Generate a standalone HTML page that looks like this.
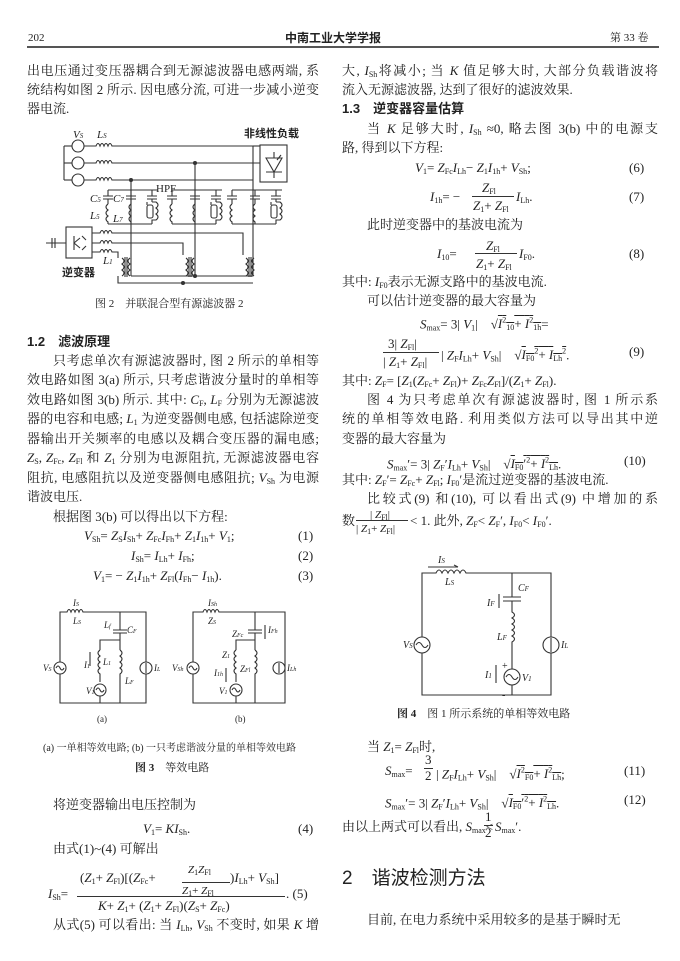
<!DOCTYPE html>
<html><head><meta charset="utf-8">
<style>
body{margin:0;background:#fff;}
#p{position:relative;width:680px;height:961px;overflow:hidden;background:#fff;color:#222;font-family:"Liberation Serif","Noto Serif CJK SC","Noto Sans CJK SC",serif;font-size:13px;}
.t{position:absolute;white-space:nowrap;line-height:16px;}
.j{text-align:justify;text-align-last:justify;white-space:normal;}
.h{font-family:"Liberation Sans","Noto Sans CJK SC",sans-serif;font-weight:bold;}
i{font-style:italic}
sub{font-size:8px;vertical-align:-2px}
svg{position:absolute;left:0;top:0}
svg text{font-family:"Liberation Serif","Noto Sans CJK SC",serif;fill:#222}
</style></head><body><div id="p">
<div class="t" style="left:28px;top:30px;font-size:11px">202</div>
<div class="t h" style="left:285px;top:30px;font-size:12px">中南工业大学学报</div>
<div class="t" style="left:610px;top:30px;font-size:11px">第 33 卷</div>
<div style="position:absolute;left:27px;top:46px;width:632px;height:2px;background:#555"></div>

<!-- left column -->
<div class="t j" style="left:27px;top:63px;width:292px">出电压通过变压器耦合到无源滤波器电感两端, 系</div>
<div class="t j" style="left:27px;top:82px;width:292px">统结构如图 2 所示. 因电感分流, 可进一步减小逆变</div>
<div class="t" style="left:27px;top:101px">器电流.</div>

<svg width="680" height="961" fill="none" stroke="#333" stroke-width="1.1">
<!-- Fig 2 -->
<g>
<line x1="64" y1="146" x2="64" y2="180"/>
<line x1="64" y1="146" x2="72" y2="146"/><line x1="64" y1="163" x2="72" y2="163"/><line x1="64" y1="180" x2="72" y2="180"/>
<circle cx="78" cy="146" r="6"/><circle cx="78" cy="163" r="6"/><circle cx="78" cy="180" r="6"/>
<path d="M84 146H96 q2-5 4 0 q2-5 4 0 q2-5 4 0 q2-5 4 0 H260"/>
<path d="M84 163H96 q2-5 4 0 q2-5 4 0 q2-5 4 0 q2-5 4 0 H260"/>
<path d="M84 180H96 q2-5 4 0 q2-5 4 0 q2-5 4 0 q2-5 4 0 H253"/>
<rect x="260" y="145" width="27" height="37"/>
<path d="M266 158 l8 14 l8-14 z M266 172h16 M274 158v-6 M274 172v6 M277 160 l4 -5"/>
<line x1="131" y1="180" x2="131" y2="276"/>
<line x1="195" y1="163" x2="195" y2="276"/>
<line x1="253" y1="146" x2="253" y2="276"/>
<line x1="253" y1="146" x2="260" y2="146"/>
<!-- filter groups -->
<g id="fg">
<path d="M108 190H158 M108 190v6 M131 190v6 M152 190v6 M103 196h10 M103 199h10 M126 196h10 M126 199h10 M147 196h10 M147 199h10 M108 199v5 M131 199v5 M152 199v3"/>
<path d="M108 204 q-4 3 0 6 q-4 3 0 6 q-4 3 0 6 v2 M131 204 q-4 3 0 6 q-4 3 0 6 q-4 3 0 6 v2"/>
<rect x="147" y="205" width="6" height="13" rx="2"/>
<path d="M152 202 h4 q4 3 0 6 q4 3 0 6 q4 3 0 6 h-4 v4 M147 202 h-0 v3"/>
<path d="M108 224H152"/>
</g>
<use href="#fg" x="64"/>
<use href="#fg" x="124"/>
<!-- inverter -->
<rect x="66" y="227" width="26" height="31"/>
<path d="M74 236 v14 M74 243 l6-5 M74 243 l6 5 M82 236 l4 4 M82 250 l4-4"/>
<path d="M52 243 H66 M52 238 v10 M55 238 v10 M46 243h6"/>
<path d="M92 233 H100 q2-5 4 0 q2-5 4 0 q2-5 4 0 H243 V255"/>
<path d="M92 243 H100 q2-5 4 0 q2-5 4 0 q2-5 4 0 H183 V255"/>
<path d="M92 252 H100 q2-5 4 0 q2-5 4 0 q2-5 4 0 H118 V258"/>
<g id="tr">
<path d="M122 258 q4 3 0 6 q4 3 0 6 q4 3 0 6 M130 258 q-4 3 0 6 q-4 3 0 6 q-4 3 0 6 M125 257v20 M127 257v20"/>
</g>
<use href="#tr" x="64"/><use href="#tr" x="124"/>
<path d="M118 276 v7 H253 M131 276 H195 M195 276 H253"/>
<circle cx="131" cy="180" r="1.5" fill="#333"/><circle cx="195" cy="163" r="1.5" fill="#333"/><circle cx="195" cy="276" r="1.5" fill="#333"/><circle cx="183" cy="283" r="1.5" fill="#333"/>
</g>
<g stroke="none" font-size="11">
<text x="73" y="138" font-style="italic">V<tspan font-size="7">S</tspan></text>
<text x="97" y="138" font-style="italic">L<tspan font-size="7">S</tspan></text>
<text x="244" y="137" font-weight="bold" font-family="Liberation Sans,Noto Sans CJK SC,sans-serif" font-size="11">非线性负载</text>
<text x="156" y="192" font-size="11">HPF</text>
<text x="90" y="202" font-style="italic">C<tspan font-size="7">5</tspan></text>
<text x="113" y="202" font-style="italic">C<tspan font-size="7">7</tspan></text>
<text x="90" y="219" font-style="italic">L<tspan font-size="7">5</tspan></text>
<text x="113" y="222" font-style="italic">L<tspan font-size="7">7</tspan></text>
<text x="103" y="264" font-style="italic">L<tspan font-size="7">1</tspan></text>
<text x="62" y="276" font-weight="bold" font-family="Liberation Sans,Noto Sans CJK SC,sans-serif" font-size="11">逆变器</text>
</g>

<!-- Fig 3a -->
<g>
<path d="M60 612 H67 q2-5 4 0 q2-5 4 0 q2-5 4 0 q2-5 4 0 H146 V703 H60 Z"/>
<circle cx="60" cy="668" r="6" fill="#fff"/><path d="M56 668 q2-4 4 0 q2 4 4 0"/>
<circle cx="146" cy="668" r="6" fill="#fff"/><line x1="146" y1="663" x2="146" y2="673"/>
<path d="M120 612 V630 M113 630h14 M113 633h14 M120 633 V640 H100 V650 M120 640 V650"/>
<path d="M100 650 q-4 3 0 6 q-4 3 0 6 q-4 3 0 6 q-4 3 0 6 v8 M120 650 q4 3 0 6 q4 3 0 6 q4 3 0 6 q4 3 0 6 v29"/>
<circle cx="100" cy="690" r="6" fill="#fff"/><path d="M96 690 q2-4 4 0 q2 4 4 0 M100 696 V703"/>
<path d="M90 652 v14"/>
</g>
<g stroke="none" font-size="9" font-style="italic">
<text x="73" y="606">I<tspan font-size="6">S</tspan></text><text x="73" y="624">L<tspan font-size="6">S</tspan></text>
<text x="104" y="628">L<tspan font-size="6">f</tspan></text><text x="127" y="633">C<tspan font-size="6">F</tspan></text>
<text x="84" y="668">I<tspan font-size="6">1</tspan></text><text x="103" y="665">L<tspan font-size="6">1</tspan></text>
<text x="125" y="684">L<tspan font-size="6">F</tspan></text>
<text x="43" y="671">V<tspan font-size="6">S</tspan></text><text x="154" y="671">I<tspan font-size="6">L</tspan></text>
<text x="86" y="694">V<tspan font-size="6">1</tspan></text>
<text x="97" y="722" font-style="normal">(a)</text>
</g>
<!-- Fig 3b -->
<g>
<path d="M193 612 H203 q2-5 4 0 q2-5 4 0 q2-5 4 0 q2-5 4 0 H285 V703 H193 Z"/>
<circle cx="193" cy="668" r="6" fill="#fff"/><path d="M189 668 q2-4 4 0 q2 4 4 0"/>
<circle cx="279" cy="668" r="6" fill="#fff"/><line x1="279" y1="663" x2="279" y2="673"/>
<path d="M255 612 V630 M248 630h14 M248 633h14 M255 633 V640 H236 V650 M255 640 V650"/>
<path d="M236 650 q-4 3 0 6 q-4 3 0 6 q-4 3 0 6 q-4 3 0 6 v8 M255 650 q4 3 0 6 q4 3 0 6 q4 3 0 6 q4 3 0 6 v29"/>
<circle cx="236" cy="690" r="6" fill="#fff"/><path d="M232 690 q2-4 4 0 q2 4 4 0 M236 696 V703"/>
<path d="M265 625 v14 M226 668 v14"/>
</g>
<g stroke="none" font-size="9" font-style="italic">
<text x="208" y="606">I<tspan font-size="6">Sh</tspan></text><text x="208" y="624">Z<tspan font-size="6">S</tspan></text>
<text x="232" y="637">Z<tspan font-size="6">Fc</tspan></text><text x="268" y="633">I<tspan font-size="6">Fh</tspan></text>
<text x="222" y="658">Z<tspan font-size="6">1</tspan></text><text x="214" y="676">I<tspan font-size="6">1h</tspan></text>
<text x="240" y="672">Z<tspan font-size="6">Fl</tspan></text>
<text x="172" y="671">V<tspan font-size="6">Sh</tspan></text><text x="287" y="671">I<tspan font-size="6">Lh</tspan></text>
<text x="219" y="694">V<tspan font-size="6">1</tspan></text>
<text x="235" y="722" font-style="normal">(b)</text>
</g>

<!-- Fig 4 -->
<g>
<path d="M422 573 H436 q3-6 6 0 q3-6 6 0 q3-6 6 0 q3-6 6 0 q3-6 6 0 H551 V695 H422 Z"/>
<circle cx="422" cy="645" r="8" fill="#fff"/><path d="M416 645 q3-5 6 0 q3 5 6 0"/>
<circle cx="551" cy="645" r="8" fill="#fff"/><line x1="551" y1="638" x2="551" y2="652"/>
<path d="M512 573 V597 M503 597h18 M503 601h18 M512 601 V612 q5 3 0 6 q5 3 0 6 q5 3 0 6 q5 3 0 6 q5 3 0 6 V670"/>
<circle cx="512" cy="677" r="8" fill="#fff"/><path d="M506 677 q3-5 6 0 q3 5 6 0 M512 685 V695"/>
<path d="M428 567 h30 M458 567 l-4-2 M499 594 v14 M496 665 v18"/>
</g>
<g stroke="none" font-size="10" font-style="italic">
<text x="438" y="563">I<tspan font-size="7">S</tspan></text><text x="445" y="585">L<tspan font-size="7">S</tspan></text>
<text x="518" y="591">C<tspan font-size="7">F</tspan></text><text x="487" y="606">I<tspan font-size="7">F</tspan></text>
<text x="497" y="640">L<tspan font-size="7">F</tspan></text>
<text x="403" y="648">V<tspan font-size="7">S</tspan></text><text x="561" y="648">I<tspan font-size="7">L</tspan></text>
<text x="485" y="678">I<tspan font-size="7">1</tspan></text><text x="522" y="681">V<tspan font-size="7">1</tspan></text>
<text x="502" y="669" font-style="normal">+</text><text x="502" y="698" font-style="normal">-</text>
</g>
</svg>

<div class="t" style="left:95px;top:296px;font-size:11px">图 2　并联混合型有源滤波器 2</div>

<div class="t h" style="left:27px;top:334px">1.2　滤波原理</div>
<div class="t j" style="left:53px;top:353px;width:266px">只考虑单次有源滤波器时, 图 2 所示的单相等</div>
<div class="t j" style="left:27px;top:372px;width:292px">效电路如图 3(a) 所示, 只考虑谐波分量时的单相等</div>
<div class="t j" style="left:27px;top:392px;width:292px">效电路如图 3(b) 所示. 其中: <i>C</i><sub>F</sub>, <i>L</i><sub>F</sub> 分别为无源滤波</div>
<div class="t j" style="left:27px;top:411px;width:292px">器的电容和电感; <i>L</i><sub>1</sub> 为逆变器侧电感, 包括滤除逆变</div>
<div class="t j" style="left:27px;top:431px;width:292px">器输出开关频率的电感以及耦合变压器的漏电感;</div>
<div class="t j" style="left:27px;top:450px;width:292px"><i>Z</i><sub>S</sub>, <i>Z</i><sub>Fc</sub>, <i>Z</i><sub>Fl</sub> 和 <i>Z</i><sub>1</sub> 分别为电源阻抗, 无源滤波器电容</div>
<div class="t j" style="left:27px;top:470px;width:292px">阻抗, 电感阻抗以及逆变器侧电感阻抗; <i>V</i><sub>Sh</sub> 为电源</div>
<div class="t" style="left:27px;top:489px">谐波电压.</div>
<div class="t" style="left:53px;top:509px">根据图 3(b) 可以得出以下方程:</div>
<div class="t" style="left:84px;top:528px"><i>V</i><sub>Sh</sub>= <i>Z</i><sub>S</sub><i>I</i><sub>Sh</sub>+ <i>Z</i><sub>Fc</sub><i>I</i><sub>Fh</sub>+ <i>Z</i><sub>1</sub><i>I</i><sub>1h</sub>+ <i>V</i><sub>1</sub>;</div>
<div class="t" style="left:298px;top:528px">(1)</div>
<div class="t" style="left:131px;top:548px"><i>I</i><sub>Sh</sub>= <i>I</i><sub>Lh</sub>+ <i>I</i><sub>Fh</sub>;</div>
<div class="t" style="left:298px;top:548px">(2)</div>
<div class="t" style="left:93px;top:568px"><i>V</i><sub>1</sub>= − <i>Z</i><sub>1</sub><i>I</i><sub>1h</sub>+ <i>Z</i><sub>Fl</sub>(<i>I</i><sub>Fh</sub>− <i>I</i><sub>1h</sub>).</div>
<div class="t" style="left:298px;top:568px">(3)</div>

<div class="t" style="left:43px;top:741px;font-size:10px">(a) 一单相等效电路; (b) 一只考虑谐波分量的单相等效电路</div>
<div class="t" style="left:135px;top:760px;font-size:11px"><b>图 3</b>　等效电路</div>

<div class="t" style="left:53px;top:797px">将逆变器输出电压控制为</div>
<div class="t" style="left:143px;top:821px"><i>V</i><sub>1</sub>= <i>KI</i><sub>Sh</sub>.</div>
<div class="t" style="left:298px;top:821px">(4)</div>
<div class="t" style="left:53px;top:841px">由式(1)~(4) 可解出</div>
<div class="t" style="left:188px;top:862px;font-size:11px"><i>Z</i><sub>1</sub><i>Z</i><sub>Fl</sub></div>
<div class="t" style="left:80px;top:870px">(<i>Z</i><sub>1</sub>+ <i>Z</i><sub>Fl</sub>)[(<i>Z</i><sub>Fc</sub>+</div>
<div style="position:absolute;left:182px;top:882px;width:48px;border-top:1px solid #333"></div>
<div class="t" style="left:230px;top:870px">)<i>I</i><sub>Lh</sub>+ <i>V</i><sub>Sh</sub>]</div>
<div class="t" style="left:182px;top:883px;font-size:11px"><i>Z</i><sub>1</sub>+ <i>Z</i><sub>Fl</sub></div>
<div class="t" style="left:48px;top:886px"><i>I</i><sub>Sh</sub>=</div>
<div style="position:absolute;left:77px;top:896px;width:208px;border-top:1px solid #333"></div>
<div class="t" style="left:98px;top:898px"><i>K</i>+ <i>Z</i><sub>1</sub>+ (<i>Z</i><sub>1</sub>+ <i>Z</i><sub>Fl</sub>)(<i>Z</i><sub>S</sub>+ <i>Z</i><sub>Fc</sub>)</div>
<div class="t" style="left:286px;top:886px">. (5)</div>
<div class="t j" style="left:53px;top:917px;width:266px">从式(5) 可以看出: 当 <i>I</i><sub>Lh</sub>, <i>V</i><sub>Sh</sub> 不变时, 如果 <i>K</i> 增</div>

<!-- right column -->
<div class="t j" style="left:342px;top:63px;width:316px">大, <i>I</i><sub>Sh</sub>将减小; 当 <i>K</i> 值足够大时, 大部分负载谐波将</div>
<div class="t" style="left:342px;top:82px">流入无源滤波器, 达到了很好的滤波效果.</div>
<div class="t h" style="left:342px;top:101px">1.3　逆变器容量估算</div>
<div class="t j" style="left:367px;top:121px;width:291px">当 <i>K</i> 足够大时, <i>I</i><sub>Sh</sub> ≈0, 略去图 3(b) 中的电源支</div>
<div class="t" style="left:342px;top:140px">路, 得到以下方程:</div>
<div class="t" style="left:415px;top:160px"><i>V</i><sub>1</sub>= <i>Z</i><sub>Fc</sub><i>I</i><sub>Lh</sub>− <i>Z</i><sub>1</sub><i>I</i><sub>1h</sub>+ <i>V</i><sub>Sh</sub>;</div>
<div class="t" style="left:629px;top:160px">(6)</div>
<div class="t" style="left:482px;top:180px"><i>Z</i><sub>Fl</sub></div>
<div class="t" style="left:430px;top:189px"><i>I</i><sub>1h</sub>= −</div>
<div style="position:absolute;left:472px;top:196px;width:42px;border-top:1px solid #333"></div>
<div class="t" style="left:516px;top:189px"><i>I</i><sub>Lh</sub>.</div>
<div class="t" style="left:473px;top:198px"><i>Z</i><sub>1</sub>+ <i>Z</i><sub>Fl</sub></div>
<div class="t" style="left:629px;top:189px">(7)</div>
<div class="t" style="left:367px;top:217px">此时逆变器中的基波电流为</div>
<div class="t" style="left:486px;top:238px"><i>Z</i><sub>Fl</sub></div>
<div class="t" style="left:437px;top:246px"><i>I</i><sub>10</sub>=</div>
<div style="position:absolute;left:475px;top:253px;width:42px;border-top:1px solid #333"></div>
<div class="t" style="left:519px;top:246px"><i>I</i><sub>F0</sub>.</div>
<div class="t" style="left:476px;top:256px"><i>Z</i><sub>1</sub>+ <i>Z</i><sub>Fl</sub></div>
<div class="t" style="left:629px;top:246px">(8)</div>
<div class="t" style="left:342px;top:274px">其中: <i>I</i><sub>F0</sub>表示无源支路中的基波电流.</div>
<div class="t" style="left:367px;top:293px">可以估计逆变器的最大容量为</div>
<div class="t" style="left:420px;top:313px"><i>S</i><sub>max</sub>= 3| <i>V</i><sub>1</sub>|　√<span style="text-decoration:overline"><i>I</i><sup style="font-size:8px">2</sup><sub>10</sub>+ <i>I</i><sup style="font-size:8px">2</sup><sub>1h</sub></span>=</div>
<div class="t" style="left:388px;top:336px">3| <i>Z</i><sub>Fl</sub>|</div>
<div style="position:absolute;left:383px;top:352px;width:56px;border-top:1px solid #333"></div>
<div class="t" style="left:441px;top:344px">| <i>Z</i><sub>F</sub><i>I</i><sub>Lh</sub>+ <i>V</i><sub>Sh</sub>|　√<span style="text-decoration:overline"><i>I</i><sub>F0</sub><sup style="font-size:8px">2</sup>+ <i>I</i><sub>Lh</sub><sup style="font-size:8px">2</sup></span>.</div>
<div class="t" style="left:383px;top:354px">| <i>Z</i><sub>1</sub>+ <i>Z</i><sub>Fl</sub>|</div>
<div class="t" style="left:629px;top:344px">(9)</div>
<div class="t" style="left:342px;top:373px">其中: <i>Z</i><sub>F</sub>= [<i>Z</i><sub>1</sub>(<i>Z</i><sub>Fc</sub>+ <i>Z</i><sub>Fl</sub>)+ <i>Z</i><sub>Fc</sub><i>Z</i><sub>Fl</sub>]/(<i>Z</i><sub>1</sub>+ <i>Z</i><sub>Fl</sub>).</div>
<div class="t j" style="left:367px;top:392px;width:291px">图 4 为只考虑单次有源滤波器时, 图 1 所示系</div>
<div class="t j" style="left:342px;top:411px;width:316px">统的单相等效电路. 利用类似方法可以导出其中逆</div>
<div class="t" style="left:342px;top:431px">变器的最大容量为</div>
<div class="t" style="left:387px;top:453px"><i>S</i><sub>max</sub>′= 3| <i>Z</i><sub>F</sub>′<i>I</i><sub>Lh</sub>+ <i>V</i><sub>Sh</sub>|　√<span style="text-decoration:overline"><i>I</i><sub>F0</sub>′<sup style="font-size:8px">2</sup>+ <i>I</i><sup style="font-size:8px">2</sup><sub>Lh</sub></span>.</div>
<div class="t" style="left:624px;top:453px">(10)</div>
<div class="t" style="left:342px;top:472px">其中: <i>Z</i><sub>F</sub>′= <i>Z</i><sub>Fc</sub>+ <i>Z</i><sub>Fl</sub>; <i>I</i><sub>F0</sub>′是流过逆变器的基波电流.</div>
<div class="t j" style="left:367px;top:491px;width:291px">比较式(9) 和(10), 可以看出式(9) 中增加的系</div>
<div class="t" style="left:370px;top:507px;font-size:11px">| <i>Z</i><sub>Fl</sub>|</div>
<div class="t" style="left:342px;top:513px">数</div>
<div style="position:absolute;left:356px;top:520px;width:52px;border-top:1px solid #333"></div>
<div class="t" style="left:356px;top:521px;font-size:11px">| <i>Z</i><sub>1</sub>+ <i>Z</i><sub>Fl</sub>|</div>
<div class="t" style="left:410px;top:513px">&lt; 1. 此外, <i>Z</i><sub>F</sub>&lt; <i>Z</i><sub>F</sub>′, <i>I</i><sub>F0</sub>&lt; <i>I</i><sub>F0</sub>′.</div>

<div class="t" style="left:397px;top:706px;font-size:11px"><b>图 4</b>　图 1 所示系统的单相等效电路</div>

<div class="t" style="left:367px;top:739px">当 <i>Z</i><sub>1</sub>= <i>Z</i><sub>Fl</sub>时,</div>
<div class="t" style="left:385px;top:763px"><i>S</i><sub>max</sub>= </div>
<div class="t" style="left:425px;top:752px">3</div>
<div style="position:absolute;left:424px;top:768px;width:9px;border-top:1px solid #333"></div>
<div class="t" style="left:425px;top:768px">2</div>
<div class="t" style="left:436px;top:763px">| <i>Z</i><sub>F</sub><i>I</i><sub>Lh</sub>+ <i>V</i><sub>Sh</sub>|　√<span style="text-decoration:overline"><i>I</i><sup style="font-size:8px">2</sup><sub>F0</sub>+ <i>I</i><sup style="font-size:8px">2</sup><sub>Lh</sub></span>;</div>
<div class="t" style="left:624px;top:763px">(11)</div>
<div class="t" style="left:385px;top:792px"><i>S</i><sub>max</sub>′= 3| <i>Z</i><sub>F</sub>′<i>I</i><sub>Lh</sub>+ <i>V</i><sub>Sh</sub>|　√<span style="text-decoration:overline"><i>I</i><sub>F0</sub>′<sup style="font-size:8px">2</sup>+ <i>I</i><sup style="font-size:8px">2</sup><sub>Lh</sub></span>.</div>
<div class="t" style="left:624px;top:792px">(12)</div>
<div class="t" style="left:342px;top:819px">由以上两式可以看出, <i>S</i><sub>max</sub>&lt;</div>
<div class="t" style="left:485px;top:809px">1</div>
<div style="position:absolute;left:484px;top:825px;width:9px;border-top:1px solid #333"></div>
<div class="t" style="left:485px;top:825px">2</div>
<div class="t" style="left:495px;top:819px"><i>S</i><sub>max</sub>′.</div>

<div class="t" style="left:342px;top:868px;font-size:19px;line-height:22px;font-family:'Liberation Sans','Noto Sans CJK SC',sans-serif">2　谐波检测方法</div>
<div class="t" style="left:367px;top:912px">目前, 在电力系统中采用较多的是基于瞬时无</div>
</div></body></html>
